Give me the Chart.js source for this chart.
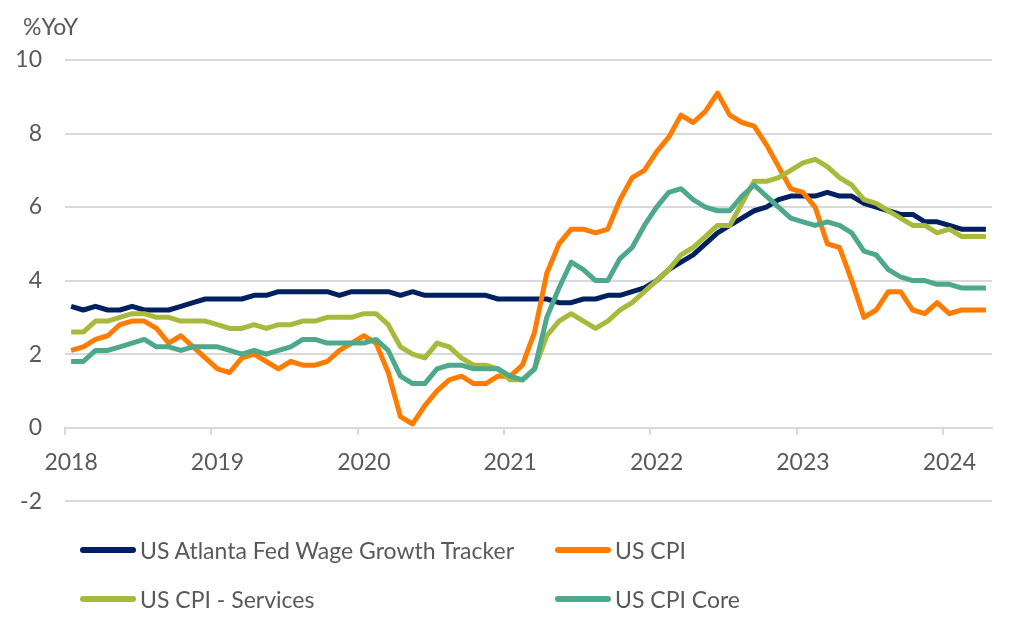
<!DOCTYPE html>
<html>
<head>
<meta charset="utf-8">
<script src="https://cdn.jsdelivr.net/npm/chart.js@4.4.1/dist/chart.umd.min.js"></script>
<style>
    body { margin: 0; background: #fff; font-family: Lato, 'Liberation Sans', sans-serif; }
    #wrap { position: relative; width: 1024px; height: 638px; }
    #wageChart { position: absolute; left: 0; top: 0; }
    #unit { position: absolute; left: 23px; top: 12px; font-size: 23px; color: #595959; }
    #legend { position: absolute; left: 80px; top: 525px; display: grid;
              grid-template-columns: 475px 300px; grid-auto-rows: 49px;
              font-size: 23px; color: #595959; }
    .item { display: flex; align-items: center; white-space: nowrap; }
    .swatch { width: 56px; height: 6px; border-radius: 3px; margin-right: 4px; }
</style>
</head>
<body>
<div id="wrap">
    <canvas id="wageChart" width="1024" height="538"></canvas>
    <div id="unit">%YoY</div>
    <div id="legend"></div>
</div>
<script>
// Monthly data, Jan 2018 - Apr 2024
const years = ['2018', '2019', '2020', '2021', '2022', '2023', '2024'];
const monthNames = ['Jan', 'Feb', 'Mar', 'Apr', 'May', 'Jun', 'Jul', 'Aug', 'Sep', 'Oct', 'Nov', 'Dec'];
const months = [];
years.forEach(y => monthNames.forEach(m => months.push(m + ' ' + y)));
const labels = months.slice(0, 76);

const wageGrowth = [
    3.3, 3.2, 3.3, 3.2, 3.2, 3.3, 3.2, 3.2, 3.2, 3.3, 3.4, 3.5,
    3.5, 3.5, 3.5, 3.6, 3.6, 3.7, 3.7, 3.7, 3.7, 3.7, 3.6, 3.7,
    3.7, 3.7, 3.7, 3.6, 3.7, 3.6, 3.6, 3.6, 3.6, 3.6, 3.6, 3.5,
    3.5, 3.5, 3.5, 3.5, 3.4, 3.4, 3.5, 3.5, 3.6, 3.6, 3.7, 3.8,
    4.0, 4.3, 4.5, 4.7, 5.0, 5.3, 5.5, 5.7, 5.9, 6.0, 6.2, 6.3,
    6.3, 6.3, 6.4, 6.3, 6.3, 6.1, 6.0, 5.9, 5.8, 5.8, 5.6, 5.6,
    5.5, 5.4, 5.4, 5.4
];
const cpi = [
    2.1, 2.2, 2.4, 2.5, 2.8, 2.9, 2.9, 2.7, 2.3, 2.5, 2.2, 1.9,
    1.6, 1.5, 1.9, 2.0, 1.8, 1.6, 1.8, 1.7, 1.7, 1.8, 2.1, 2.3,
    2.5, 2.3, 1.5, 0.3, 0.1, 0.6, 1.0, 1.3, 1.4, 1.2, 1.2, 1.4,
    1.4, 1.7, 2.6, 4.2, 5.0, 5.4, 5.4, 5.3, 5.4, 6.2, 6.8, 7.0,
    7.5, 7.9, 8.5, 8.3, 8.6, 9.1, 8.5, 8.3, 8.2, 7.7, 7.1, 6.5,
    6.4, 6.0, 5.0, 4.9, 4.0, 3.0, 3.2, 3.7, 3.7, 3.2, 3.1, 3.4,
    3.1, 3.2, 3.2, 3.2
];
const cpiServices = [
    2.6, 2.6, 2.9, 2.9, 3.0, 3.1, 3.1, 3.0, 3.0, 2.9, 2.9, 2.9,
    2.8, 2.7, 2.7, 2.8, 2.7, 2.8, 2.8, 2.9, 2.9, 3.0, 3.0, 3.0,
    3.1, 3.1, 2.8, 2.2, 2.0, 1.9, 2.3, 2.2, 1.9, 1.7, 1.7, 1.6,
    1.3, 1.3, 1.6, 2.5, 2.9, 3.1, 2.9, 2.7, 2.9, 3.2, 3.4, 3.7,
    4.0, 4.3, 4.7, 4.9, 5.2, 5.5, 5.5, 6.1, 6.7, 6.7, 6.8, 7.0,
    7.2, 7.3, 7.1, 6.8, 6.6, 6.2, 6.1, 5.9, 5.7, 5.5, 5.5, 5.3,
    5.4, 5.2, 5.2, 5.2
];
const cpiCore = [
    1.8, 1.8, 2.1, 2.1, 2.2, 2.3, 2.4, 2.2, 2.2, 2.1, 2.2, 2.2,
    2.2, 2.1, 2.0, 2.1, 2.0, 2.1, 2.2, 2.4, 2.4, 2.3, 2.3, 2.3,
    2.3, 2.4, 2.1, 1.4, 1.2, 1.2, 1.6, 1.7, 1.7, 1.6, 1.6, 1.6,
    1.4, 1.3, 1.6, 3.0, 3.8, 4.5, 4.3, 4.0, 4.0, 4.6, 4.9, 5.5,
    6.0, 6.4, 6.5, 6.2, 6.0, 5.9, 5.9, 6.3, 6.6, 6.3, 6.0, 5.7,
    5.6, 5.5, 5.6, 5.5, 5.3, 4.8, 4.7, 4.3, 4.1, 4.0, 4.0, 3.9,
    3.9, 3.8, 3.8, 3.8
];

const seriesNames = ['US Atlanta Fed Wage Growth Tracker', 'US CPI', 'US CPI - Services', 'US CPI Core'];
const seriesData = [wageGrowth, cpi, cpiServices, cpiCore];
const seriesColors = ['#002060', '#FF7C00', '#A7BA3C', '#4DA88C'];

const textColor = '#595959';
const gridColor = '#d9d9d9';
Chart.defaults.font.family = "Lato, 'Liberation Sans', sans-serif";
Chart.defaults.font.size = 23;
Chart.defaults.color = textColor;

const ctx = document.getElementById('wageChart').getContext('2d');
new Chart(ctx, {
    type: 'line',
    data: {
        labels: labels,
        datasets: seriesData.map((d, i) => ({
            label: seriesNames[i],
            data: d,
            borderColor: seriesColors[i],
            backgroundColor: seriesColors[i],
            borderWidth: 5,
            borderJoinStyle: 'round',
            pointRadius: 0,
            tension: 0,
            order: seriesData.length - i
        }))
    },
    options: {
        responsive: false,
        animation: false,
        devicePixelRatio: 1,
        layout: { padding: { top: 60, right: 32, bottom: 0, left: 0 } },
        plugins: { legend: { display: false }, tooltip: { enabled: false } },
        scales: {
            x: {
                type: 'category',
                position: { y: 0 },
                offset: true,
                grid: {
                    offset: true,
                    drawOnChartArea: false,
                    drawTicks: true,
                    tickLength: 6,
                    lineWidth: 2,
                    color: c => (c.index % 12 === 0 && c.index < labels.length) ? gridColor : 'rgba(0,0,0,0)'
                },
                border: { display: true, color: gridColor, width: 2 },
                ticks: {
                    autoSkip: false,
                    maxRotation: 0,
                    padding: 15,
                    color: textColor,
                    callback: (v, i) => i % 12 === 0 ? years[i / 12] : ''
                }
            },
            y: {
                min: -2,
                max: 10,
                afterFit: s => { s.width = 65; },
                grid: { color: gridColor, lineWidth: 2, drawTicks: false },
                border: { display: false },
                ticks: { stepSize: 2, padding: 23, color: textColor }
            }
        }
    }
});

// legend laid out in two columns like the original
const legend = document.getElementById('legend');
seriesNames.forEach((name, i) => {
    const item = document.createElement('div');
    item.className = 'item';
    const sw = document.createElement('span');
    sw.className = 'swatch';
    sw.style.background = seriesColors[i];
    item.appendChild(sw);
    item.appendChild(document.createTextNode(name));
    legend.appendChild(item);
});
</script>
</body>
</html>
